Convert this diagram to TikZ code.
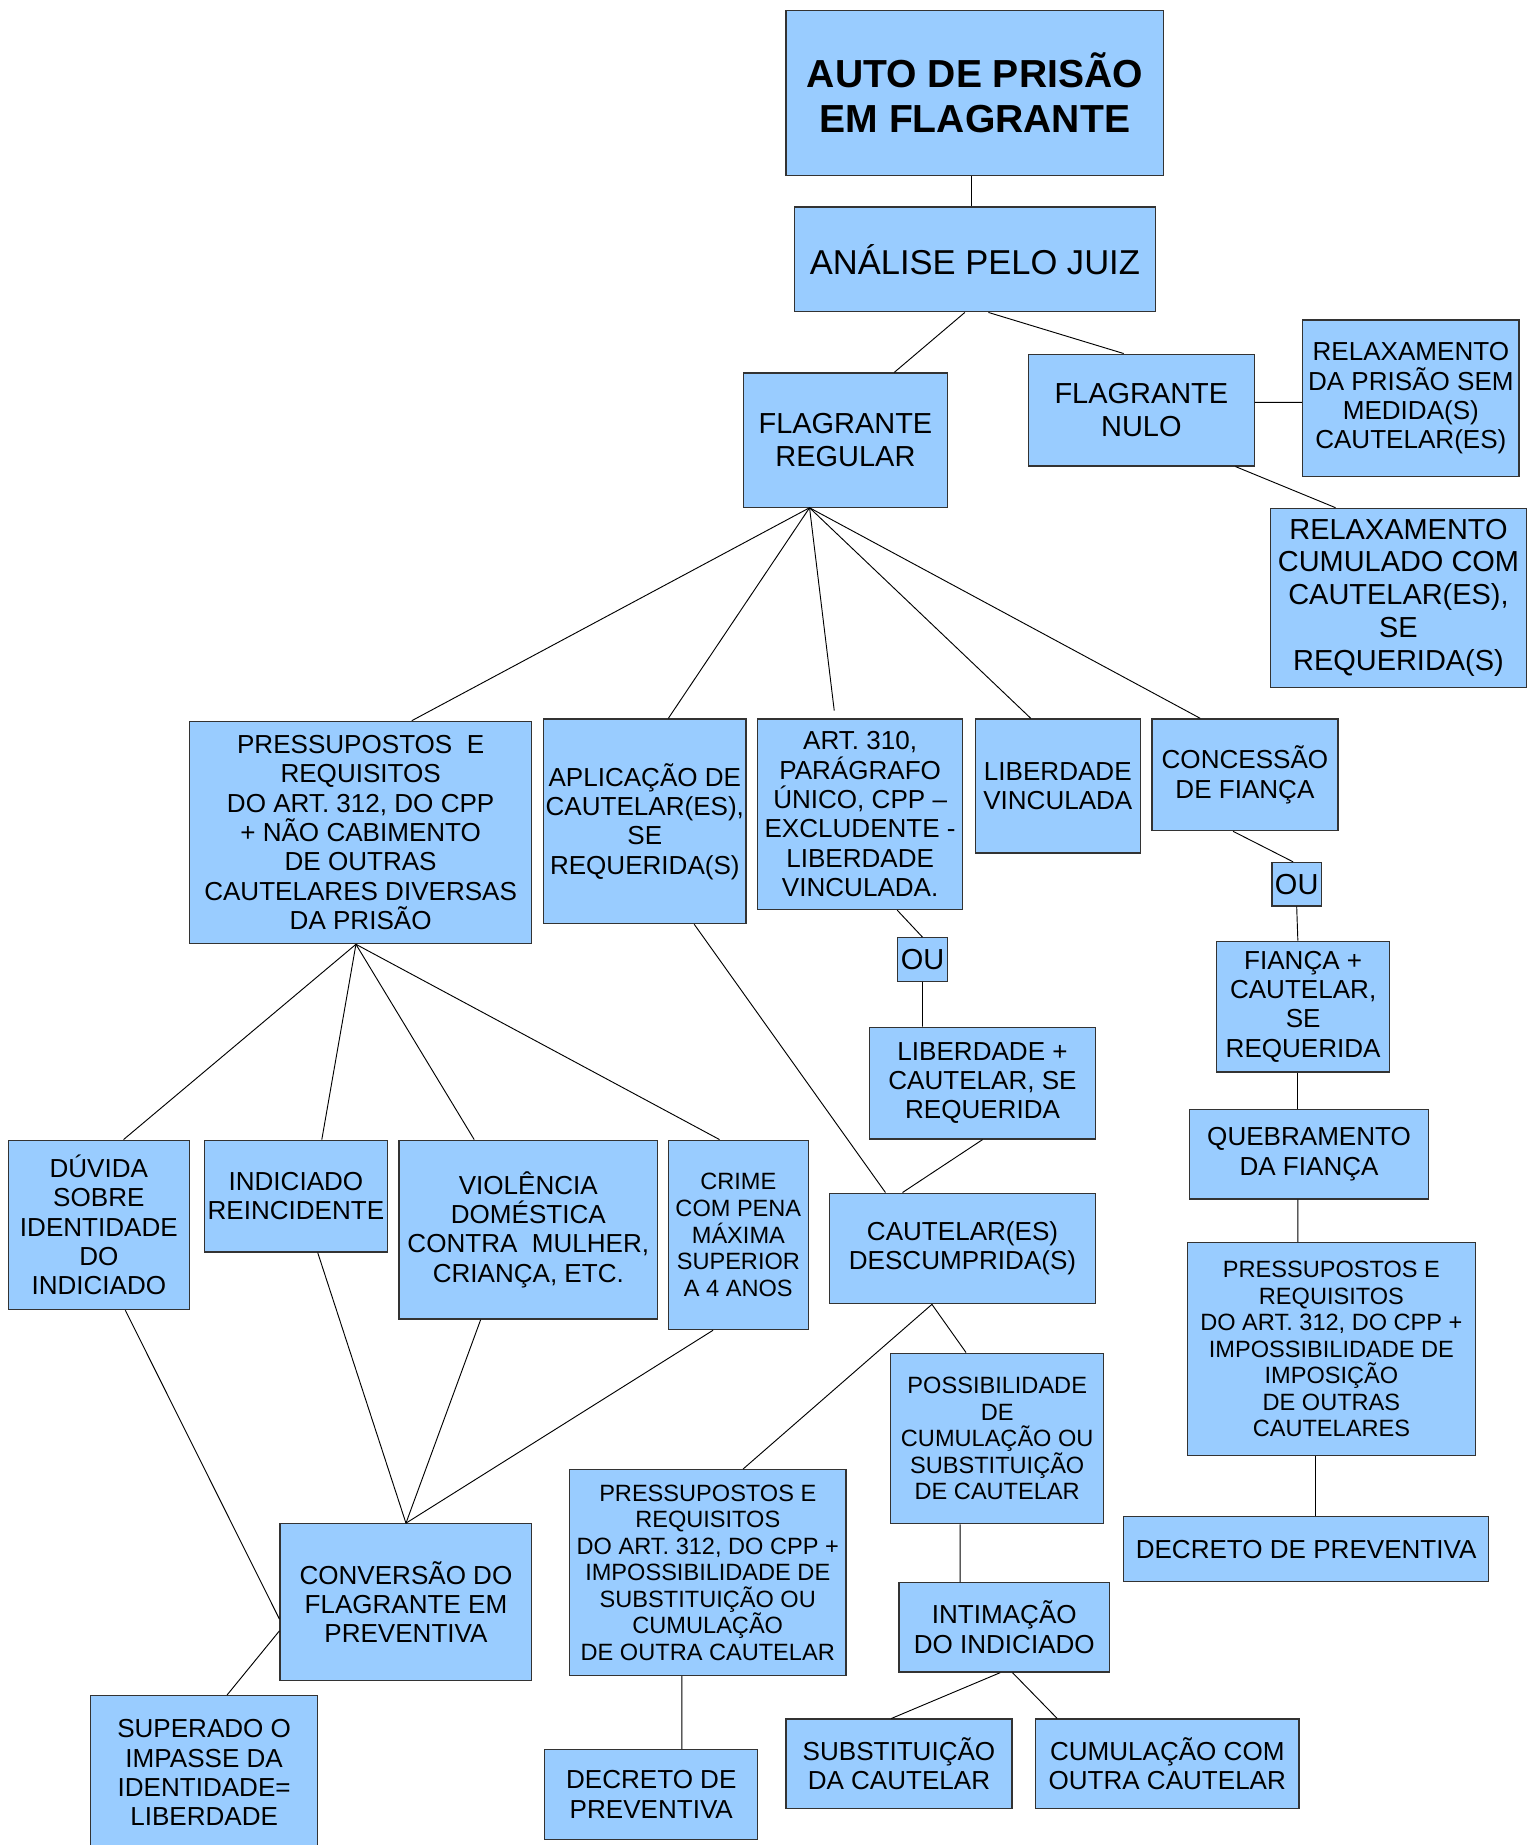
\documentclass[tikz,border=0pt]{standalone}
\usepackage{fontspec}
\setmainfont{Liberation Sans}
\usepackage{xcolor}
\definecolor{azul}{HTML}{99CCFF}
\tikzstyle{caixa} = [rectangle, draw=black!80, line width=0.6pt, fill=azul, align=center, inner sep=1pt, font=\fontsize{12.6}{14.2}\selectfont]
\tikzstyle{caixagrande} = [caixa, font=\fontsize{14}{15.9}\selectfont]
\tikzstyle{caixamenor} = [caixa, font=\fontsize{11.4}{12.85}\selectfont]
\tikzstyle{linha} = [line width=0.45pt, black]

\begin{document}
\begin{tikzpicture}
	\useasboundingbox (0,0) rectangle (25.98,-31.36);
	%Auto e analise
	\node[caixa, minimum width=6.42cm, minimum height=2.8cm, font=\bfseries\fontsize{18.9}{21.6}\selectfont] (auto) at (16.57,-1.58) {AUTO DE PRISÃO\\EM FLAGRANTE};
	\node[caixa, minimum width=6.14cm, minimum height=1.78cm, font=\fontsize{16.7}{19}\selectfont] (analise) at (16.57,-4.41) {ANÁLISE PELO JUIZ};
	%Flagrante regular / nulo
	\node[caixagrande, minimum width=3.46cm, minimum height=2.28cm] (freg) at (14.37,-7.48) {FLAGRANTE\\REGULAR};
	\node[caixagrande, minimum width=3.84cm, minimum height=1.9cm] (fnulo) at (19.4,-6.97) {FLAGRANTE\\NULO};
	\node[caixa, minimum width=3.68cm, minimum height=2.66cm] (relaxA) at (23.98,-6.77) {RELAXAMENTO\\DA PRISÃO SEM\\MEDIDA(S)\\CAUTELAR(ES)};
	\node[caixagrande, minimum width=4.34cm, minimum height=3.04cm] (relaxB) at (23.77,-10.16) {RELAXAMENTO\\CUMULADO COM\\CAUTELAR(ES),\\SE\\REQUERIDA(S)};
	%Segundo nivel
	\node[caixa, minimum width=5.82cm, minimum height=3.78cm] (pressL) at (6.13,-14.15) {PRESSUPOSTOS~ E\\REQUISITOS\\DO ART. 312, DO CPP\\+ NÃO CABIMENTO\\DE OUTRAS\\CAUTELARES DIVERSAS\\DA PRISÃO};
	\node[caixa, minimum width=3.4cm, minimum height=3.48cm] (aplic) at (10.96,-13.96) {APLICAÇÃO DE\\CAUTELAR(ES),\\SE\\REQUERIDA(S)};
	\node[caixa, minimum width=3.48cm, minimum height=3.24cm] (art) at (14.62,-13.84) {ART. 310,\\PARÁGRAFO\\ÚNICO, CPP –\\EXCLUDENTE -\\LIBERDADE\\VINCULADA.};
	\node[caixa, minimum width=2.8cm, minimum height=2.28cm] (libvinc) at (17.98,-13.36) {LIBERDADE\\VINCULADA};
	\node[caixa, minimum width=3.16cm, minimum height=1.9cm] (fianca) at (21.16,-13.17) {CONCESSÃO\\DE FIANÇA};
	%Ramo da fianca
	\node[caixagrande, minimum width=0.84cm, minimum height=0.74cm] (ouB) at (22.04,-15.03) {OU};
	\node[caixa, minimum width=2.94cm, minimum height=2.22cm] (fiancaCaut) at (22.15,-17.11) {FIANÇA +\\CAUTELAR,\\SE\\REQUERIDA};
	\node[caixa, minimum width=4.06cm, minimum height=1.52cm] (quebra) at (22.25,-19.62) {QUEBRAMENTO\\DA FIANÇA};
	\node[caixamenor, minimum width=4.9cm, minimum height=3.62cm] (pressR) at (22.63,-22.93) {PRESSUPOSTOS E\\REQUISITOS\\DO ART. 312, DO CPP +\\IMPOSSIBILIDADE DE\\IMPOSIÇÃO\\DE OUTRAS\\CAUTELARES};
	\node[caixa, minimum width=6.2cm, minimum height=1.1cm] (decretoR) at (22.2,-26.33) {DECRETO DE PREVENTIVA};
	%Ramo do art. 310
	\node[caixagrande, minimum width=0.84cm, minimum height=0.74cm] (ouA) at (15.68,-16.31) {OU};
	\node[caixa, minimum width=3.84cm, minimum height=1.9cm] (libCaut) at (16.7,-18.41) {LIBERDADE +\\CAUTELAR, SE\\REQUERIDA};
	\node[caixa, minimum width=4.52cm, minimum height=1.88cm] (descump) at (16.36,-21.22) {CAUTELAR(ES)\\DESCUMPRIDA(S)};
	\node[caixamenor, minimum width=3.62cm, minimum height=2.9cm] (possib) at (16.95,-24.45) {POSSIBILIDADE\\DE\\CUMULAÇÃO OU\\SUBSTITUIÇÃO\\DE CAUTELAR};
	\node[caixamenor, minimum width=4.7cm, minimum height=3.5cm] (pressM) at (12.03,-26.73) {PRESSUPOSTOS E\\REQUISITOS\\DO ART. 312, DO CPP +\\IMPOSSIBILIDADE DE\\SUBSTITUIÇÃO OU\\CUMULAÇÃO\\DE OUTRA CAUTELAR};
	\node[caixa, minimum width=3.58cm, minimum height=1.52cm] (intim) at (17.07,-27.66) {INTIMAÇÃO\\DO INDICIADO};
	\node[caixa, minimum width=3.62cm, minimum height=1.52cm] (decretoM) at (11.07,-30.5) {DECRETO DE\\PREVENTIVA};
	\node[caixa, minimum width=3.84cm, minimum height=1.52cm] (subst) at (15.28,-29.98) {SUBSTITUIÇÃO\\DA CAUTELAR};
	\node[caixa, minimum width=4.48cm, minimum height=1.52cm] (cumul) at (19.84,-29.98) {CUMULAÇÃO COM\\OUTRA CAUTELAR};
	%Hipoteses da preventiva
	\node[caixa, minimum width=3.08cm, minimum height=2.88cm] (duvida) at (1.68,-20.82) {DÚVIDA\\SOBRE\\IDENTIDADE\\DO\\INDICIADO};
	\node[caixa, minimum width=3.1cm, minimum height=1.9cm] (reinc) at (5.03,-20.33) {INDICIADO\\REINCIDENTE};
	\node[caixa, minimum width=4.4cm, minimum height=3.04cm] (violencia) at (8.98,-20.9) {VIOLÊNCIA\\DOMÉSTICA\\CONTRA~ MULHER,\\CRIANÇA, ETC.};
	\node[caixamenor, minimum width=2.38cm, minimum height=3.22cm] (crime) at (12.55,-20.99) {CRIME\\COM PENA\\MÁXIMA\\SUPERIOR\\A 4 ANOS};
	\node[caixa, minimum width=4.28cm, minimum height=2.66cm] (conversao) at (6.9,-27.23) {CONVERSÃO DO\\FLAGRANTE EM\\PREVENTIVA};
	\node[caixa, minimum width=3.86cm, minimum height=2.62cm] (superado) at (3.47,-30.13) {SUPERADO O\\IMPASSE DA\\IDENTIDADE=\\LIBERDADE};

	%Ligacoes do topo
	\draw[linha] ([xshift=-0.05cm]auto.south) -- ([xshift=-0.05cm]analise.north);
	\draw[linha] ([xshift=-0.17cm]analise.south) -- ([xshift=0.83cm]freg.north);
	\draw[linha] ([xshift=0.23cm]analise.south) -- ([xshift=-0.3cm]fnulo.north);
	\draw[linha] ([yshift=0.13cm]fnulo.east) -- ([yshift=-0.07cm]relaxA.west);
	\draw[linha] ([xshift=1.6cm]fnulo.south) -- ([xshift=-1.07cm]relaxB.north);
	%Leque do flagrante regular
	\coordinate (fregbase) at ([xshift=-0.61cm]freg.south);
	\draw[linha] (fregbase) -- ([xshift=0.87cm]pressL.north);
	\draw[linha] (fregbase) -- ([xshift=0.4cm]aplic.north);
	\draw[linha] (fregbase) -- ([xshift=-0.44cm, yshift=0.13cm]art.north);
	\draw[linha] (fregbase) -- ([xshift=-0.46cm]libvinc.north);
	\draw[linha] (fregbase) -- ([xshift=-0.76cm]fianca.north);
	%Fianca
	\draw[linha] ([xshift=-0.2cm]fianca.south) -- ([xshift=-0.06cm]ouB.north);
	\draw[linha] (ouB.south) -- ([xshift=-0.09cm]fiancaCaut.north);
	\draw[linha] ([xshift=-0.09cm]fiancaCaut.south) -- ([xshift=-0.19cm]quebra.north);
	\draw[linha] ([xshift=-0.19cm]quebra.south) -- ([xshift=-0.57cm]pressR.north);
	\draw[linha] ([xshift=-0.27cm]pressR.south) -- ([xshift=0.16cm]decretoR.north);
	%Art. 310 e cautelares
	\draw[linha] ([xshift=0.63cm]art.south) -- (ouA.north);
	\draw[linha] (ouA.south) -- ([xshift=-1.02cm]libCaut.north);
	\draw[linha] (libCaut.south) -- ([xshift=-1.02cm]descump.north);
	\draw[linha] ([xshift=0.84cm]aplic.south) -- ([xshift=-1.31cm]descump.north);
	\coordinate (descbase) at ([xshift=-0.52cm]descump.south);
	\draw[linha] (descbase) -- ([xshift=0.6cm]pressM.north);
	\draw[linha] (descbase) -- ([xshift=-0.53cm]possib.north);
	\draw[linha] ([xshift=-0.63cm]possib.south) -- ([xshift=-0.75cm]intim.north);
	\draw[linha] ([xshift=-0.44cm]pressM.south) -- ([xshift=0.52cm]decretoM.north);
	\draw[linha] ([xshift=-0.07cm]intim.south) -- ([xshift=-0.13cm]subst.north);
	\draw[linha] ([xshift=0.14cm]intim.south) -- ([xshift=-1.87cm]cumul.north);
	%Leque dos pressupostos
	\coordinate (pressbase) at ([xshift=-0.08cm]pressL.south);
	\draw[linha] (pressbase) -- ([xshift=0.42cm]duvida.north);
	\draw[linha] (pressbase) -- ([xshift=0.44cm]reinc.north);
	\draw[linha] (pressbase) -- ([xshift=-0.92cm]violencia.north);
	\draw[linha] (pressbase) -- ([xshift=-0.32cm]crime.north);
	%Conversao
	\draw[linha] ([xshift=0.37cm]reinc.south) -- (conversao.north);
	\draw[linha] ([xshift=-0.81cm]violencia.south) -- (conversao.north);
	\draw[linha] ([xshift=-0.43cm]crime.south) -- (conversao.north);
	\draw[linha] ([xshift=0.45cm]duvida.south) -- ([yshift=-0.29cm]conversao.west);
	\draw[linha] ([yshift=-0.49cm]conversao.west) -- ([xshift=0.39cm]superado.north);
\end{tikzpicture}
\end{document}
